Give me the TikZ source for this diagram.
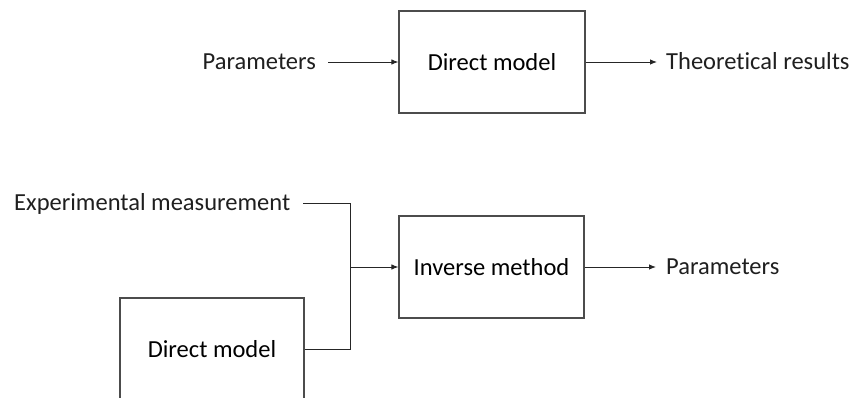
\documentclass[tikz,border=0pt]{standalone}
\usepackage{fontspec}
\setmainfont{Carlito}[Ligatures={NoCommon}]
\usetikzlibrary{arrows.meta}
\begin{document}
\begin{tikzpicture}[x=1pt,y=-1pt,
  box/.style={draw=black!70,line width=1.2pt,minimum width=#1,minimum height=102pt,inner sep=0pt},
  lbl/.style={inner sep=0pt,text height=0.64em,text depth=0pt,text=black!88,yshift=-4.5pt},
  conn/.style={draw=black!85,line width=0.9pt},
  arr/.style={conn,-{Latex[length=7pt,width=5.5pt]}},
  font=\fontsize{24.5}{29}\selectfont]
\useasboundingbox (0,0) rectangle (852,398);
\clip (0,0) rectangle (852,398);
% top row
\node[box=186pt] (dm1) at (492,62) {Direct model};
\node[lbl,anchor=east] (p1) at (316,62) {Parameters};
\node[lbl,anchor=west] (tr) at (666,62) {Theoretical results};
\draw[arr] ([xshift=12pt]p1.east |- dm1.west) -- (dm1.west);
\draw[arr] (dm1.east) -- ([xshift=-9pt]tr.west |- dm1.east);
% bottom row
\node[box=185pt] (im) at (491.5,267) {Inverse method};
\node[box=184pt] (dm2) at (212,349) {Direct model};
\node[lbl,anchor=west] (em) at (14,203) {Experimental measurement};
\node[lbl,anchor=west] (p2) at (666,267) {Parameters};
\coordinate (j) at (350,267);
\coordinate (e) at (303,203);
\draw[conn] (e) -| (j);
\draw[conn] (dm2.east) -| (j);
\draw[arr] (j) -- (im.west);
\draw[arr] (im.east) -- ([xshift=-10pt]p2.west |- im.east);
\end{tikzpicture}
\end{document}
